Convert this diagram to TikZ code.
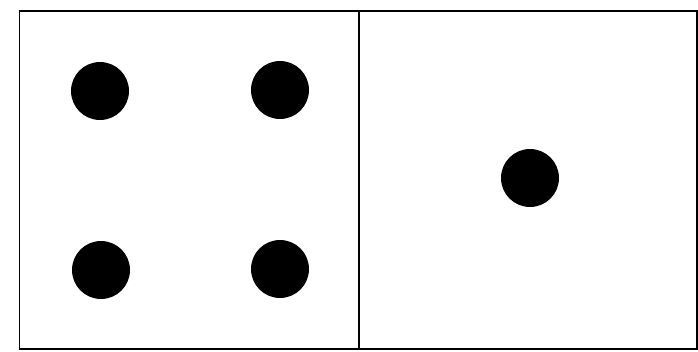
\documentclass[tikz,border=0pt]{standalone}
\usepackage{tikz}
\usetikzlibrary{positioning}
\tikzset{
  half/.style={draw=black,line width=1.1pt,minimum width=6.8cm,minimum height=6.76cm,inner sep=0pt},
  pip/.style={circle,fill=black,draw=none,minimum size=1.16cm,inner sep=0pt}
}

\begin{document}
\begin{tikzpicture}[x=0.02cm,y=-0.02cm]
  \useasboundingbox (0,0) rectangle (698,352);
  \node[half] (lefthalf) at (189.5,180) {};
  \node[half,minimum width=6.76cm] (righthalf) at (528,180) {};

  \node[pip] (pipa) at (100,91) {};
  \node[pip] (pipb) at (280,90) {};
  \node[pip] (pipc) at (101,270) {};
  \node[pip] (pipd) at (280,269) {};
  \node[pip] (pipe) at (530,178) {};
\end{tikzpicture}
\end{document}
